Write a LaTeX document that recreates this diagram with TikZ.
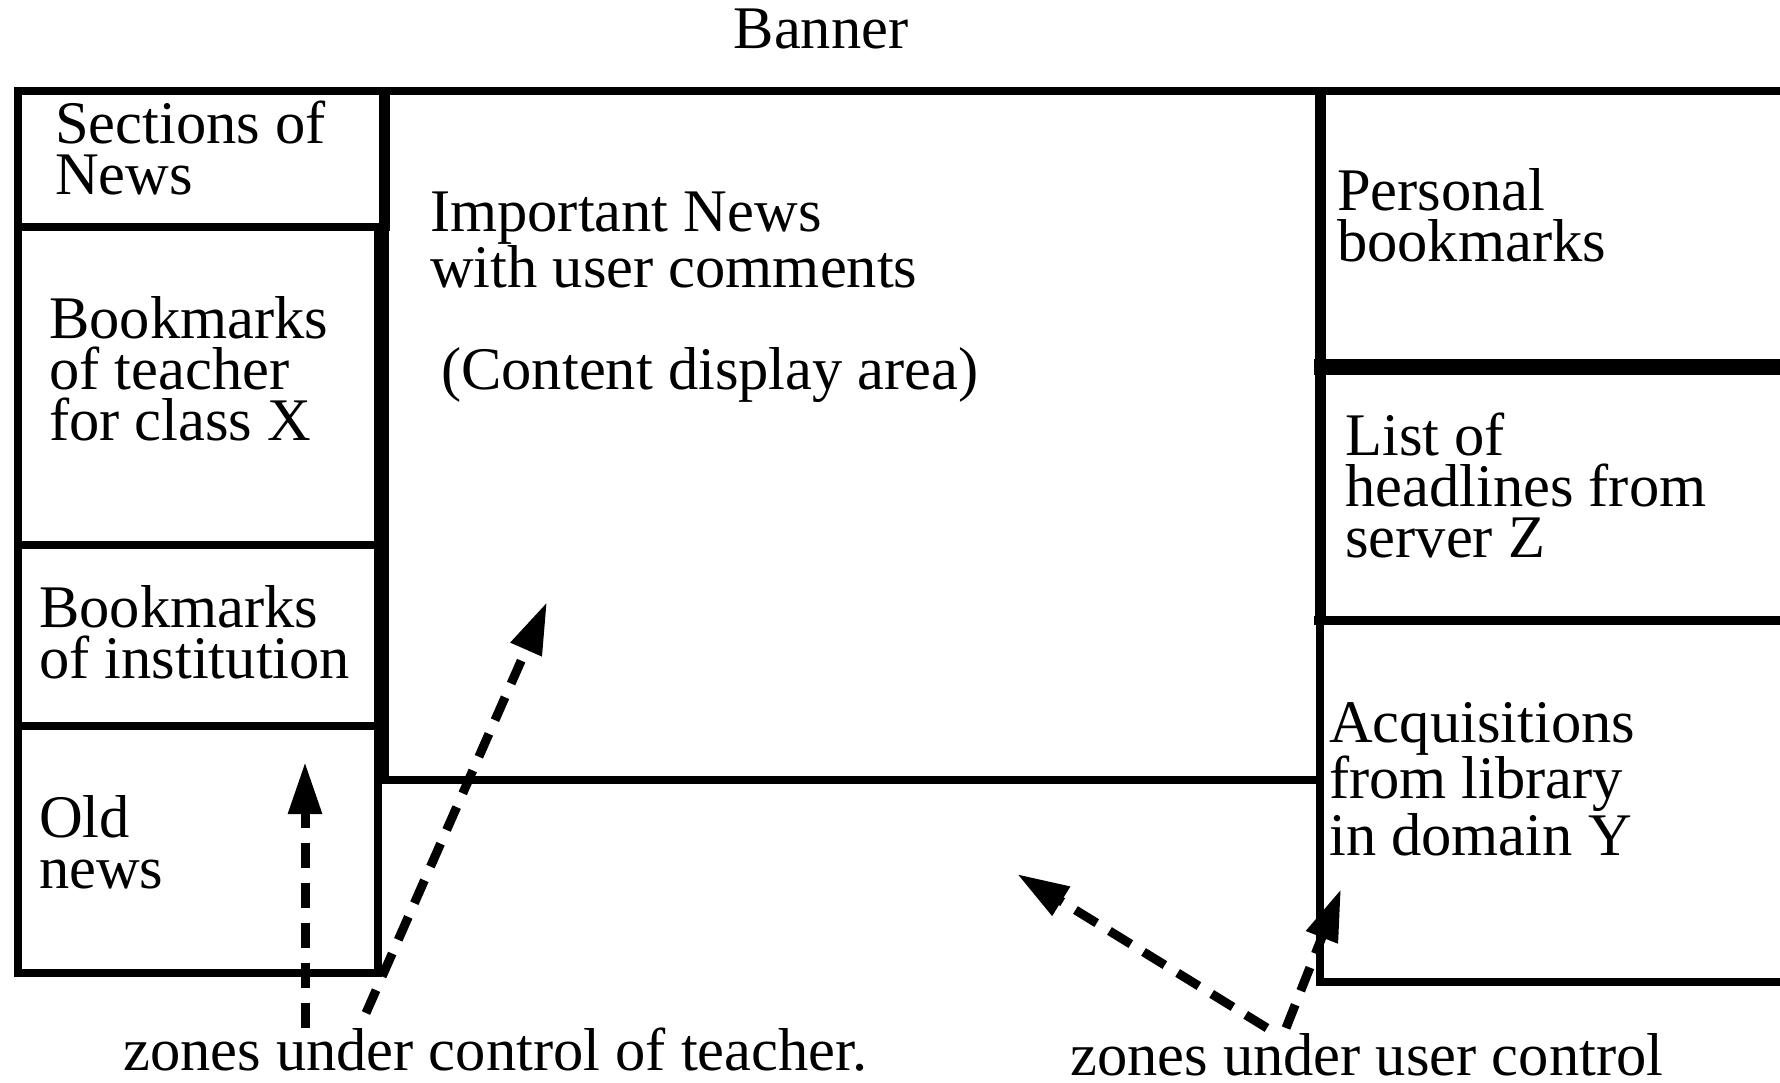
\documentclass[tikz,border=0pt]{standalone}
\usepackage{fontspec}
\setmainfont{Liberation Serif}
\usetikzlibrary{arrows.meta}
\newcommand{\lblfont}{\fontsize{60.5}{51}\selectfont}
\tikzset{
  frame/.style={line width=8.5pt, line cap=rect},
  lbl/.style={font=\lblfont, align=left, inner sep=0pt, anchor=base west},
  zonearrow/.style={line width=9pt, dash pattern=on 25pt off 15pt,
    -{Triangle[length=52pt,width=32pt]}}
}
\begin{document}
\begin{tikzpicture}[x=1pt,y=-1pt]
\useasboundingbox[fill=white] (0,0) rectangle (1780,1082);

% ---- frame lines ----
% top line
\draw[frame] (18,91) -- (1780,91);
% left column
\draw[frame] (18,91) rectangle (386,227);
\draw[frame] (18,227) rectangle (378,545);
\draw[frame] (18,545) rectangle (378,726);
\draw[frame] (18,726) rectangle (378,973);
% content display area
\draw[line width=10pt] (384,91) -- (384,780);
\draw[frame] (378,780) -- (1320,780);
% right column
\draw[line width=11pt] (1320,91) -- (1320,620);
\draw[frame] (1320,620) -- (1320,982) -- (1780,982);
\draw[line width=16pt] (1314,367) -- (1780,367);
\draw[line width=9pt] (1314,620) -- (1780,620);

% ---- texts (anchored at the baseline of the last line) ----
\node[font=\lblfont, inner sep=0pt, anchor=base] (banner) at (821,48) {Banner};
\node[lbl] (sections) at (55,194) {Sections of\\News};
\node[lbl] (teacherbm) at (49,440) {Bookmarks\\of teacher\\for class X};
\node[lbl] (institution) at (39,678) {Bookmarks\\of institution};
\node[lbl] (oldnews) at (39,888) {Old\\news};
\node[lbl] (important) at (430,287) {Important News\\with user comments};
\node[lbl] (contentarea) at (441,389) {(Content display area)};
\node[lbl] (personal) at (1337,261) {Personal\\bookmarks};
\node[lbl] (headlines) at (1345,557) {List of\\headlines from\\server Z};
\node[lbl] (acquisitions) at (1329,855) {Acquisitions\\from library\\in domain Y};
\node[lbl] (teacherzones) at (123,1070) {zones under control of teacher.};
\node[lbl] (userzones) at (1070,1075) {zones under user control};

% ---- arrows ----
\coordinate (t1) at (305,1028);
\coordinate (h1) at (305,762);
\coordinate (t2) at (366,1013);
\coordinate (h2) at (547,602);
\coordinate (t3) at (1267,1028);
\coordinate (h3) at (1017,874);
\coordinate (t4) at (1286,1028);
\coordinate (h4) at (1341,889);
\draw[zonearrow] (t1) -- (h1);
\draw[zonearrow] (t2) -- (h2);
\draw[zonearrow] (t3) -- (h3);
\draw[zonearrow] (t4) -- (h4);
\end{tikzpicture}
\end{document}
